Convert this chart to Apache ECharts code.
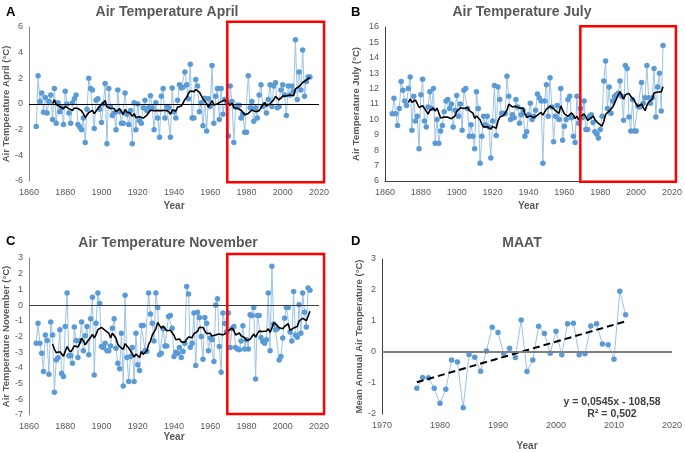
<!DOCTYPE html>
<html>
<head>
<meta charset="utf-8">
<script src="https://cdn.jsdelivr.net/npm/echarts@6/dist/echarts.min.js"></script>
<style>
html,body{margin:0;padding:0;background:#fff}
#main{width:685px;height:453px}
</style>
</head>
<body>
<div id="main"></div>
<script>
// yearly series start in 1864
var startYear = 1864

var april = [
 -1.75, 2.2, 0.2, 0.85, -0.65, 0.5, -0.7, 0.2, 0.7, -1.2,
 1.2, -1.5, 0.1, -0.6, -0.3, -1.6, 1.0, 0.0, -0.7, -1.5,
 0.1, 0.4, 0.7, -1.6, -1.8, -2.0, -1.1, -3.0, -0.4, 2.0,
 1.2, 1.1, -1.9, 0.3, 0.4, -0.4, -1.45, 0.0, 1.6, -3.1,
 1.2, -0.2, -0.9, -0.7, -2.0, 1.1, -0.6, -1.5, -1.5, 0.85,
 -0.8, -1.6, -0.5, -3.1, 0.1, -2.0, 0.0, -1.3, -1.5, -0.3,
 0.3, -0.5, -0.3, 0.65, -0.3, -2.0, 0.1, -1.1, -2.6, 0.6,
 1.2, -1.1, -0.2, -0.3, -2.6, 1.25, -0.6, -1.1, 0.3, 1.5,
 1.25, 1.3, 2.5, 1.5, 0.4, 3.1, -1.1, -1.1, 1.9, 1.4,
 -0.6, 0.1, -1.7, 0.45, -2.1, 0.4, -0.2, 3.0, -1.5, 0.6,
 1.2, -1.2, 1.2, -0.8, 0.35, 0.2, -2.5, 1.4, 0.2, -3.0,
 -0.25, -0.1, -0.1, -1.1, -0.8, -2.2, -2.2, 2.2, -0.3, 0.2,
 -1.35, -0.3, -1.1, 0.7, 1.5, -0.2, -0.05, -0.7, 0.35, 1.5,
 -0.2, 1.4, 1.65, -0.3, -0.2, 1.1, 1.5, 0.7, -0.9, 1.4,
 0.7, 1.4, 1.0, 5.0, 0.35, 2.5, 1.1, 4.2, 0.6, 1.75,
 2.1, 2.1
]

var july = [
 10.36, 11.38, 10.36, 9.6, 10.7, 12.46, 11.9, 11.2, 10.9, 12.0,
 12.75, 9.3, 11.5, 9.9, 10.2, 8.1, 11.6, 12.6, 9.9, 9.5,
 10.8, 11.8, 10.7, 12.0, 8.45, 10.0, 8.45, 9.25, 9.6, 10.5,
 11.2, 11.3, 10.7, 11.0, 9.5, 10.6, 11.55, 10.2, 11.0, 9.3,
 11.9, 12.0, 10.7, 8.9, 9.65, 8.9, 8.1, 11.8, 10.7, 7.15,
 8.9, 10.2, 9.65, 10.2, 9.5, 7.5, 9.9, 12.2, 8.95, 12.1,
 11.3, 10.4, 10.4, 10.36, 12.8, 11.5, 10.0, 10.3, 10.1, 11.3,
 10.8, 9.75, 10.3, 10.6, 8.9, 9.2, 10.3, 11.05, 10.0, 10.2,
 10.6, 11.65, 11.4, 11.2, 7.15, 11.2, 12.25, 10.2, 12.7, 10.8,
 8.55, 10.2, 10.9, 10.0, 12.0, 8.65, 9.55, 10.0, 11.3, 11.5,
 10.1, 8.9, 8.5, 11.5, 9.75, 10.7, 10.1, 11.2, 9.35, 9.35,
 10.2, 10.3, 9.8, 9.2, 9.05, 8.8, 9.35, 10.2, 12.5, 13.8,
 10.7, 12.1, 10.4, 11.2, 11.5, 11.6, 11.7, 12.5, 11.5, 9.95,
 13.5, 13.3, 10.15, 9.25, 11.3, 9.25, 9.25, 10.85, 10.8, 12.4,
 11.05, 11.4, 13.5, 11.4, 11.05, 11.4, 13.3, 10.15, 12.1, 13.0,
 10.55, 14.8
]

var november = [
 -2.43, -1.15, -2.43, -3.06, -4.23, -1.9, -2.25, -4.4, -1.08, -1.9,
 -5.55, -3.5, -3.35, -1.57, -4.35, -4.55, -1.36, 0.77, -3.23, -3.23,
 -3.7, -1.4, -2.25, -3.34, -2.28, -1.08, -2.9, -1.95, -1.36, -3.17,
 -0.87, 0.5, -4.45, -1.15, 0.77, 0.1, -2.64, -2.7, -2.43, -2.9,
 -2.9, -2.6, -1.47, -0.87, -2.75, -3.7, -4.06, -1.8, -5.15, 0.62,
 -3.34, -4.87, -3.28, -2.7, -4.87, -1.8, -3.8, -4.17, -1.3, -1.3,
 -2.9, -2.96, 0.77, -0.57, -1.15, -2.28, 0.77, -0.15, -3.17, -3.06,
 -1.5, -2.6, -2.6, -0.72, -0.66, -1.47, -3.28, -3.0, -3.06, -2.7,
 -3.34, -2.96, -2.43, 1.19, 0.7, -2.68, -2.43, -0.51, -3.85, -0.45,
 -0.79, -2.0, -3.45, -0.79, -1.15, -2.9, -2.1, -2.2, -3.6, 0.0,
 0.4, -2.64, -4.28, -0.51, -1.17, -1.7, -0.51, -2.7, -1.5, -1.36,
 -2.7, -2.79, -2.85, -2.28, -1.32, -2.79, -2.2, -2.79, -0.62, -0.66,
 -0.15, -4.7, -0.66, -0.66, -2.06, -2.32, -2.43, -2.2, 0.77, -2.9,
 2.47, -1.2, -1.57, -1.5, -3.49, -3.28, -2.1, -0.83, -0.15, -0.15,
 -1.72, -2.28, 0.87, -1.9, -2.04, 0.02, -1.8, 0.77, -0.45, -1.4,
 1.09, 0.95
]

var maatYears = [1976, 1977, 1978, 1979, 1980, 1981, 1982, 1983, 1984, 1985,
 1986, 1987, 1988, 1989, 1990, 1991, 1992, 1993, 1994, 1995,
 1996, 1997, 1998, 1999, 2000, 2001, 2002, 2003, 2004, 2005,
 2006, 2007, 2008, 2009, 2010, 2011, 2012]
var maat = [-1.17, -0.82, -0.83, -1.17, -1.65, -1.2, -0.26, -0.32, -1.8, -0.08,
 -0.17, -0.62, 0.03, 0.8, 0.63, -0.06, 0.12, -0.18, 1.03, -0.63,
 -0.26, 0.83, 0.6, -0.04, 0.67, -0.09, 0.91, 0.93, -0.09, -0.06,
 0.84, 0.91, 0.26, 0.23, -0.23, 1.96, 1.2]

var titles = ['Air Temperature April', 'Air Temperature July', 'Air Temperature November', 'MAAT']
var yNames = ['Air Temperature April (°C)', 'Air Temperature July (°C)', 'Air Temperature November (°C)', 'Mean Annual Air Temperature (°C)']
var eqText = ['y = 0,0545x - 108,58', 'R² = 0,502']

function pairs(vals){
	return vals.map(function(v,i){ return [startYear+i, v] })
}
// 10 year moving average like the excel trendline
function movAvg(vals, n){
	var out = []
	for (var i = n-1; i < vals.length; i++){
		var s = 0
		for (var k = i-n+1; k <= i; k++) s += vals[k]
		out.push([startYear+i, s/n])
	}
	return out
}
function trend(xs, ys){
	var n = xs.length, sx=0, sy=0, sxx=0, sxy=0
	for (var i=0;i<n;i++){ sx+=xs[i]; sy+=ys[i]; sxx+=xs[i]*xs[i]; sxy+=xs[i]*ys[i] }
	var b = (n*sxy-sx*sy)/(n*sxx-sx*sx), a = (sy-b*sx)/n
	return [[xs[0], a+b*xs[0]], [xs[n-1], a+b*xs[n-1]]]
}

var grey = '#595959'
var font = 'Liberation Sans'
var grids = [
	{left:29, top:27, width:290, height:154},
	{left:385, top:27, width:288, height:154},
	{left:29, top:258, width:290, height:157},
	{left:382, top:259, width:291, height:155}
]

function xAx(g, min, max, step, line, gap){
	return {type:'value', gridIndex:g, min:min, max:max, interval:step,
		name:'Year', nameLocation:'middle', nameGap:gap,
		nameTextStyle:{color:grey, fontWeight:'bold', fontSize:10, fontFamily:font},
		axisLine:{show:line, onZero:false, lineStyle:{color:'#404040', width:1}},
		axisTick:{show:false}, splitLine:{show:false},
		axisLabel:{color:grey, fontSize:9, fontFamily:font, margin:7,
			formatter:function(v){ return String(v) }}}
}
function yAx(g, min, max, step, name, gap, col){
	return {type:'value', gridIndex:g, min:min, max:max, interval:step,
		name:name, nameLocation:'middle', nameGap:gap, nameRotate:90,
		nameTextStyle:{color:grey, fontWeight:'bold', fontSize:9.5, fontFamily:font},
		axisLine:{show:true, onZero:false, lineStyle:{color:col, width:1}},
		axisTick:{show:false}, splitLine:{show:false},
		axisLabel:{color:grey, fontSize:9, fontFamily:font, margin:6}}
}
function zeroLine(col, w){
	return {silent:true, symbol:'none', label:{show:false},
		lineStyle:{color:col, width:w, type:'solid'}, data:[{yAxis:0}]}
}
function pts(idx, data, mark){
	var s = {type:'line', xAxisIndex:idx, yAxisIndex:idx, data:data,
		symbol:'circle', symbolSize:5.5, showSymbol:true,
		itemStyle:{color:'#5B9BD5'}, lineStyle:{color:'#9DC3E6', width:1}, z:2}
	if (mark) s.markLine = mark
	return s
}
function avgLine(idx, data){
	return {type:'line', xAxisIndex:idx, yAxisIndex:idx, data:data, symbol:'none',
		lineStyle:{color:'#000', width:1.6}, z:3}
}

var titleList = [
	{text:titles[0], left:162, top:0, textAlign:'center'},
	{text:titles[1], left:517, top:0, textAlign:'center'},
	{text:titles[2], left:163, top:231, textAlign:'center'},
	{text:titles[3], left:517, top:231, textAlign:'center'}
].map(function(t){
	t.textStyle = {color:grey, fontSize:14, fontWeight:'bold', fontFamily:font}
	return t
})
var letters = [['A',1,1],['B',346,1],['C',1,230],['D',346,230]].map(function(l){
	return {text:l[0], left:l[1], top:l[2], textStyle:{color:'#000', fontSize:13, fontWeight:'bold', fontFamily:font}}
})
var eqs = [{text:eqText[0], left:607, top:392, textAlign:'center'},
	{text:eqText[1], left:607, top:404, textAlign:'center'}].map(function(t){
	t.textStyle = {color:'#404040', fontSize:10.5, fontWeight:'bold', fontFamily:font}
	return t
})

var myChart = echarts.init(document.getElementById('main'))
myChart.setOption({
	animation:false,
	backgroundColor:'#fff',
	title: titleList.concat(letters).concat(eqs),
	grid: grids,
	xAxis: [
		xAx(0, 1860, 2020, 20, false, 20),
		xAx(1, 1860, 2020, 20, true, 20),
		xAx(2, 1860, 2020, 20, false, 17),
		xAx(3, 1970, 2020, 10, false, 27)
	],
	yAxis: [
		yAx(0, -6, 6, 2, yNames[0], 17, '#868686'),
		yAx(1, 6, 16, 1, yNames[1], 24, '#404040'),
		yAx(2, -7, 3, 1, yNames[2], 18, '#868686'),
		yAx(3, -2, 3, 1, yNames[3], 17, '#404040')
	],
	series: [
		pts(0, pairs(april), zeroLine('#000', 1)),
		avgLine(0, movAvg(april, 10)),
		pts(1, pairs(july)),
		avgLine(1, movAvg(july, 10)),
		pts(2, pairs(november), zeroLine('#404040', 1)),
		avgLine(2, movAvg(november, 10)),
		pts(3, maatYears.map(function(y,i){ return [y, maat[i]] }), zeroLine('#808080', 2)),
		{type:'line', xAxisIndex:3, yAxisIndex:3, data:trend(maatYears, maat), symbol:'none',
			lineStyle:{color:'#000', width:2, type:[7,4]}, z:3}
	]
})

// red boxes round the period after 1969
var boxes = [
	{g:0, x0:1969.4, x1:2022.8, y0:6.4, y1:-6.1},
	{g:1, x0:1968.9, x1:2022.2, y0:16.05, y1:5.95},
	{g:2, x0:1969.4, x1:2022.8, y0:3.25, y1:-6.94}
]
var rects = boxes.map(function(b){
	var p0 = myChart.convertToPixel({gridIndex:b.g}, [b.x0, b.y0])
	var p1 = myChart.convertToPixel({gridIndex:b.g}, [b.x1, b.y1])
	return {type:'rect', shape:{x:p0[0], y:p0[1], width:p1[0]-p0[0], height:p1[1]-p0[1]},
		style:{fill:null, stroke:'#FF0000', lineWidth:2.5}, z:10}
})
myChart.setOption({graphic: rects})
</script>
</body>
</html>
